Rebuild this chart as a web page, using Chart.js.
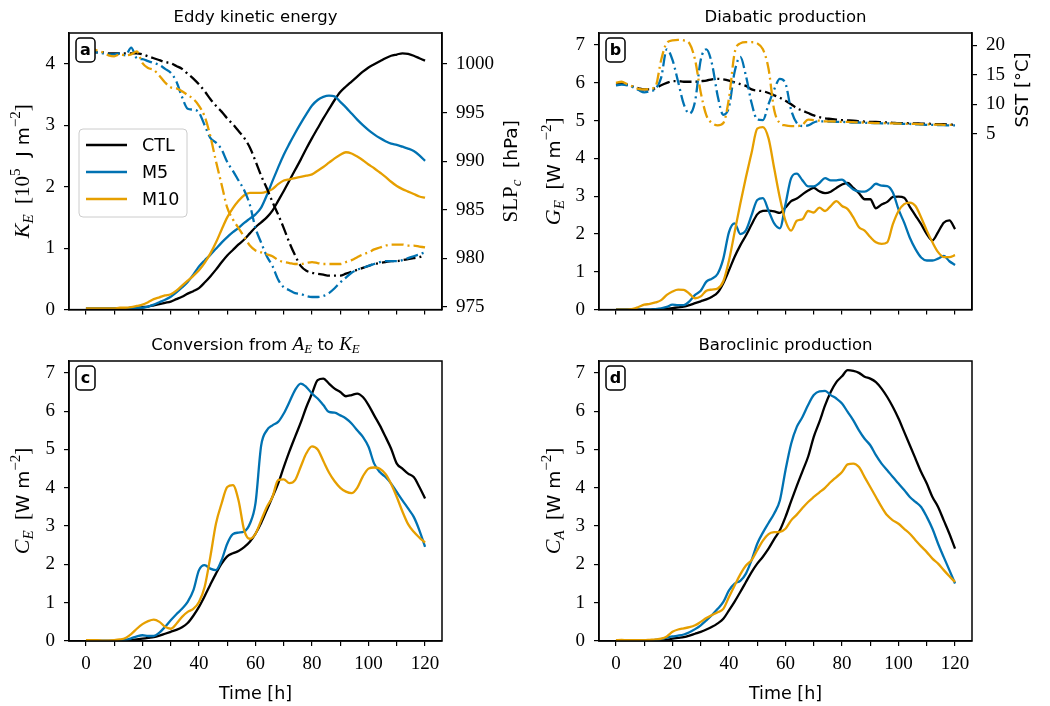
<!DOCTYPE html>
<html>
<head>
<meta charset="utf-8">
<script src="https://cdn.jsdelivr.net/npm/chart.js@4.4.1/dist/chart.umd.min.js"></script>
<style>
  body { margin: 0; background: #fff; width: 1050px; height: 706px; position: relative; overflow: hidden; }
  canvas { position: absolute; }
</style>
</head>
<body>
<canvas id="pa" width="525" height="330" style="left:0;top:0"></canvas>
<canvas id="pb" width="525" height="330" style="left:525px;top:0"></canvas>
<canvas id="pc" width="525" height="376" style="left:0;top:330px"></canvas>
<canvas id="pd" width="525" height="376" style="left:525px;top:330px"></canvas>
<script>
// time axis [h]
const hours = [0,2,4,6,8,10,12,14,16,18, 20,22,24,26,28,30,32,34,36,38,
  40,42,44,46,48,50,52,54,56,58, 60,62,64,66,68,70,72,74,76,78,
  80,82,84,86,88,90,92,94,96,98, 100,102,104,106,108,110,112,114,116,118, 120];
const runs = ["CTL", "M5", "M10"];

// (a) eddy kinetic energy [1e5 J m-2]
const keCTL = [0.02,0.02,0.02,0.02,0.02,0.02,0.02,0.02,0.03,0.03,
  0.04,0.05,0.07,0.09,0.11,0.13,0.17,0.21,0.26,0.30,
  0.35,0.44,0.54,0.65,0.77,0.88,0.97,1.06,1.14,1.24,
  1.34,1.42,1.50,1.61,1.77,1.93,2.10,2.27,2.44,2.62,
  2.79,2.95,3.11,3.26,3.41,3.54,3.63,3.71,3.79,3.87,
  3.94,3.99,4.04,4.09,4.13,4.15,4.17,4.16,4.13,4.09, 4.05];
const keM5 = [0.02,0.02,0.02,0.02,0.02,0.02,0.02,0.02,0.02,0.03,
  0.03,0.05,0.08,0.12,0.16,0.21,0.28,0.36,0.45,0.57,
  0.70,0.80,0.89,0.99,1.09,1.18,1.26,1.33,1.41,1.48,
  1.55,1.66,1.86,2.09,2.31,2.52,2.70,2.87,3.03,3.18,
  3.32,3.41,3.46,3.48,3.47,3.38,3.29,3.19,3.09,3.00,
  2.92,2.85,2.79,2.74,2.70,2.68,2.65,2.62,2.58,2.51, 2.42];
const keM10 = [0.02,0.02,0.02,0.02,0.02,0.02,0.03,0.03,0.04,0.06,
  0.08,0.12,0.17,0.20,0.23,0.25,0.31,0.39,0.47,0.55,
  0.64,0.76,0.91,1.09,1.30,1.50,1.65,1.77,1.86,1.90,
  1.90,1.90,1.92,1.96,2.04,2.10,2.12,2.14,2.16,2.18,
  2.20,2.26,2.32,2.39,2.46,2.52,2.56,2.54,2.49,2.43,
  2.36,2.30,2.23,2.16,2.08,2.01,1.96,1.92,1.88,1.84, 1.82];
// (a) central sea level pressure [hPa]
const slpCTL = [1001.3,1001.3,1001.2,1001.2,1001.1,1001.1,1001.1,1001.1,1001.1,1001.1,
  1001.0,1000.8,1000.6,1000.4,1000.2,1000.1,999.8,999.5,999.0,998.5,
  997.9,997.2,996.4,995.7,995.1,994.4,993.8,993.1,992.4,991.4,
  990.0,988.5,987.2,985.8,984.5,983.1,981.6,980.3,979.2,978.7,
  978.5,978.4,978.3,978.2,978.2,978.2,978.4,978.6,978.8,979.0,
  979.2,979.4,979.5,979.6,979.7,979.7,979.8,979.9,980.0,980.1, 980.3];
const slpM5 = [1001.3,1001.3,1001.2,1001.1,1001.0,1001.0,1001.1,1000.9,1001.7,1000.6,
  1000.5,1000.3,1000.1,999.9,999.5,999.1,998.2,996.6,995.4,995.3,
  995.0,993.7,992.4,991.9,991.2,989.9,989.0,988.0,987.0,985.5,
  983.1,981.6,980.2,979.2,977.8,977.0,976.7,976.4,976.3,976.1,
  976.0,976.0,976.1,976.4,976.9,977.5,978.0,978.5,978.8,979.0,
  979.2,979.4,979.6,979.7,979.7,979.7,979.8,980.0,980.2,980.4, 980.6];
const slpM10 = [1001.5,1001.6,1001.4,1001.2,1000.9,1000.8,1001.0,1000.9,1001.0,1001.3,
  1000.1,999.6,999.4,998.8,998.1,997.6,997.5,997.2,996.8,996.4,
  995.7,994.6,992.6,990.0,987.6,985.2,984.0,983.1,982.2,981.3,
  980.8,980.6,980.4,980.2,979.8,979.6,979.5,979.4,979.4,979.5,
  979.6,979.5,979.4,979.4,979.4,979.4,979.6,979.8,980.1,980.4,
  980.6,980.9,981.1,981.3,981.4,981.4,981.4,981.3,981.3,981.2, 981.1];

// (b) diabatic production [W m-2]
const geCTL = [0,0,0,0,0,0,0,0.01,0.01,0.02,
  0.04,0.06,0.08,0.12,0.17,0.22,0.27,0.34,0.45,0.70,
  1.04,1.40,1.70,1.96,2.25,2.52,2.61,2.62,2.60,2.56,
  2.70,2.87,2.94,3.05,3.15,3.22,3.13,3.08,3.12,3.22,
  3.31,3.35,3.22,3.08,2.92,2.92,2.68,2.78,2.85,2.98,
  2.99,2.96,2.72,2.49,2.26,2.00,1.83,2.05,2.30,2.36, 2.13];
const geM5 = [0,0,0,0,0,0,0,0.01,0.03,0.07,
  0.13,0.12,0.12,0.22,0.39,0.50,0.74,0.82,0.95,1.35,
  2.05,2.28,2.00,2.10,2.50,2.90,2.95,2.62,2.28,2.15,
  2.79,3.48,3.60,3.42,3.26,3.26,3.35,3.48,3.42,3.42,
  3.44,3.31,3.18,3.13,3.12,3.20,3.33,3.28,3.27,3.10,
  2.65,2.30,1.90,1.60,1.38,1.30,1.30,1.35,1.42,1.28, 1.18];
const geM10 = [0,0,0,0.02,0.07,0.13,0.15,0.19,0.25,0.39,
  0.48,0.53,0.52,0.42,0.30,0.35,0.50,0.53,0.56,0.75,
  1.30,2.05,2.80,3.50,4.15,4.79,4.83,4.53,3.74,2.96,
  2.35,2.09,2.35,2.39,2.61,2.57,2.70,2.61,2.74,2.87,
  2.74,2.66,2.44,2.18,2.09,1.92,1.78,1.74,1.78,2.26,
  2.61,2.79,2.83,2.74,2.44,2.09,1.78,1.52,1.39,1.39, 1.44];
// (b) sea surface temperature under the cyclone [degC]
const sstCTL = [13.5,13.5,13.3,13.0,12.7,12.5,12.5,12.7,13.2,13.6,
  13.9,13.9,13.8,13.8,13.8,13.9,14.0,14.2,14.3,14.2,
  14.0,13.7,13.4,13.1,12.5,12.3,12.2,11.9,11.5,11.1,
  10.6,10.0,9.3,8.9,8.5,8.1,7.8,7.6,7.5,7.4,
  7.3,7.25,7.2,7.1,7.05,7.0,7.0,6.95,6.9,6.85,
  6.8,6.8,6.75,6.75,6.7,6.7,6.65,6.6,6.6,6.55, 6.5];
const sstM5 = [13.2,13.3,13.2,12.9,12.4,12.0,12.2,12.6,14.5,19.3,
  17.5,13.8,10.0,8.4,10.5,17.5,19.3,16.8,11.4,8.2,
  9.5,15.5,18.0,14.8,10.2,7.4,7.3,10.0,12.5,14.3,
  13.5,9.0,6.8,6.3,6.4,6.9,7.1,7.1,7.05,7.0,
  7.0,6.95,6.9,6.9,6.85,6.8,6.8,6.75,6.75,6.7,
  6.7,6.65,6.65,6.6,6.55,6.5,6.5,6.45,6.45,6.4, 6.4];
const sstM10 = [13.6,13.8,13.4,13.0,12.6,12.5,12.6,13.0,17.5,20.4,
  20.8,20.9,20.8,20.3,17.5,12.0,8.1,6.8,6.4,6.8,
  11.0,18.7,20.3,20.5,20.5,20.3,19.3,16.0,9.0,6.8,
  6.4,6.3,6.3,6.5,7.4,7.3,7.2,7.1,7.1,7.05,
  7.0,7.0,6.95,6.9,6.9,6.85,6.8,6.8,6.75,6.75,
  6.7,6.7,6.65,6.65,6.6,6.6,6.55,6.55,6.5,6.5, 6.5];

// (c) conversion from A_E to K_E [W m-2]
const ceCTL = [0,0,0,0,0,0,0,0.01,0.02,0.04,
  0.06,0.08,0.10,0.14,0.19,0.24,0.29,0.36,0.47,0.66,
  0.89,1.17,1.47,1.76,2.02,2.21,2.29,2.35,2.45,2.59,
  2.80,3.08,3.42,3.76,4.11,4.54,4.95,5.33,5.70,6.11,
  6.46,6.81,6.85,6.72,6.59,6.50,6.39,6.42,6.46,6.37,
  6.16,5.89,5.63,5.33,5.02,4.63,4.50,4.37,4.28,4.02, 3.72];
const ceM5 = [0,0,0,0,0,0,0.01,0.03,0.07,0.12,
  0.15,0.13,0.13,0.22,0.37,0.54,0.70,0.84,1.02,1.32,
  1.85,1.98,1.89,1.85,2.11,2.54,2.79,2.83,2.86,3.06,
  3.60,5.10,5.50,5.63,5.72,5.94,6.24,6.55,6.72,6.63,
  6.46,6.33,6.16,5.98,5.96,5.89,5.81,5.68,5.50,5.33,
  5.07,4.63,4.41,4.28,4.11,3.89,3.67,3.46,3.24,2.89, 2.46];
const ceM10 = [0.02,0.02,0.02,0.01,0.01,0.02,0.04,0.08,0.18,0.32,
  0.44,0.52,0.56,0.50,0.37,0.32,0.45,0.63,0.76,0.84,
  1.02,1.41,2.19,3.06,3.59,4.02,4.07,3.67,2.89,2.67,
  2.80,3.15,3.50,3.76,4.20,4.22,4.12,4.20,4.55,4.90,
  5.08,5.00,4.70,4.40,4.17,4.00,3.90,3.86,4.00,4.30,
  4.50,4.53,4.50,4.36,4.10,3.76,3.38,3.05,2.85,2.70, 2.57];

// (d) baroclinic production [W m-2]
const caCTL = [0,0,0,0,0,0,0,0,0.01,0.03,
  0.06,0.08,0.10,0.14,0.19,0.24,0.30,0.37,0.46,0.58,
  0.80,1.03,1.28,1.54,1.80,2.02,2.20,2.41,2.66,2.89,
  3.24,3.65,4.05,4.43,4.81,5.33,5.72,6.15,6.50,6.76,
  6.91,7.07,7.05,7.00,6.90,6.85,6.76,6.59,6.37,6.11,
  5.81,5.46,5.11,4.76,4.41,4.11,3.76,3.50,3.15,2.80, 2.41];
const caM5 = [0.01,0.01,0.01,0.01,0.01,0.01,0.02,0.03,0.05,0.09,
  0.12,0.14,0.17,0.23,0.31,0.41,0.54,0.68,0.84,1.02,
  1.32,1.50,1.57,1.76,2.11,2.54,2.83,3.08,3.33,3.67,
  4.46,5.15,5.59,5.85,6.16,6.42,6.52,6.53,6.42,6.33,
  6.20,5.98,5.76,5.50,5.28,5.11,4.85,4.63,4.46,4.28,
  4.11,3.94,3.76,3.63,3.50,3.24,2.93,2.54,2.19,1.85, 1.50];
const caM10 = [0.02,0.03,0.02,0.02,0.02,0.02,0.03,0.04,0.06,0.12,
  0.24,0.30,0.33,0.36,0.41,0.50,0.60,0.68,0.75,0.84,
  1.15,1.45,1.74,1.97,2.11,2.37,2.62,2.79,2.84,2.85,
  2.93,3.15,3.30,3.47,3.63,3.76,3.88,4.00,4.15,4.28,
  4.41,4.61,4.63,4.54,4.28,4.02,3.76,3.50,3.28,3.15,
  3.06,2.93,2.80,2.63,2.47,2.32,2.15,2.02,1.85,1.69, 1.54];

const xTicks = [0, 20, 40, 60, 80, 100, 120];
const sstTicks = [5, 10, 15, 20];

const colors = ["#000000", "#0072B2", "#E69F00"];
const SERIF = '"Liberation Serif", "DejaVu Serif", serif';
const SANS = '"DejaVu Sans", sans-serif';
const sr = s => s + "px " + SERIF;
const it = s => "italic " + s + "px " + SERIF;
const sn = s => s + "px " + SANS;

Chart.defaults.font.family = SERIF;
Chart.defaults.font.size = 19;
Chart.defaults.color = "#000";

// draw text made of several font pieces, centred on (x, y)
function rich(ctx, segs, x, y, rot) {
  ctx.save();
  ctx.translate(x, y);
  if (rot) ctx.rotate(rot);
  ctx.textAlign = "left";
  ctx.textBaseline = "alphabetic";
  ctx.fillStyle = "#000";
  let w = 0;
  segs.forEach(s => { ctx.font = s[1]; w += ctx.measureText(s[0]).width; });
  let cx = -w / 2;
  segs.forEach(s => {
    ctx.font = s[1];
    ctx.fillText(s[0], cx, 6 + (s[2] || 0));
    cx += ctx.measureText(s[0]).width;
  });
  ctx.restore();
}

function fluxLabel(sym, sub) {
  return [[sym, it(22)], [sub, it(15), 4], ["  [", sr(21)], ["W m", sn(18.5)], ["\u22122", sr(15), -9], ["]", sr(21)]];
}

function makeDeco(info) {
  return {
    id: "deco",
    afterDraw(chart) {
      const c = chart.ctx, a = chart.chartArea;
      const cx = (a.left + a.right) / 2, cy = (a.top + a.bottom) / 2;
      c.save();
      c.strokeStyle = "#000";
      c.lineWidth = 1.5;
      c.strokeRect(a.left, a.top, a.right - a.left, a.bottom - a.top);

      // panel letter
      c.fillStyle = "#fff";
      c.beginPath();
      c.roundRect(a.left + 7, a.top + 5, 19, 24, 4);
      c.fill();
      c.stroke();
      c.fillStyle = "#000";
      c.font = "bold 16px " + SANS;
      c.textAlign = "center";
      c.textBaseline = "middle";
      c.fillText(info.letter, a.left + 16.5, a.top + 17.5);

      rich(c, info.title, cx, info.titleY);
      rich(c, info.yLabel, info.yLabelX, cy, -Math.PI / 2);
      if (info.y2Label) rich(c, info.y2Label, a.right + info.y2dx, info.y2y || cy, -Math.PI / 2);
      if (info.xLabel) rich(c, info.xLabel, cx, a.bottom + 52);

      if (info.legend) {
        const bx = a.left + 10, by = a.top + 96;
        c.fillStyle = "rgba(255,255,255,0.85)";
        c.strokeStyle = "#cccccc";
        c.lineWidth = 1;
        c.beginPath();
        c.roundRect(bx, by, 108, 88, 4);
        c.fill();
        c.stroke();
        c.textAlign = "left";
        c.textBaseline = "middle";
        c.font = sn(17.5);
        for (let i = 0; i < 3; i++) {
          const ds = chart.data.datasets[i];
          const ly = by + 16 + i * 27;
          c.strokeStyle = ds.borderColor;
          c.lineWidth = 2.3;
          c.beginPath();
          c.moveTo(bx + 7, ly);
          c.lineTo(bx + 48, ly);
          c.stroke();
          c.fillStyle = "#000";
          c.fillText(ds.label, bx + 63, ly + 1);
        }
      }
      c.restore();
    }
  };
}

function line(label, vals, color, axis, dashed, order) {
  return {
    label: label,
    data: vals.map((v, i) => ({ x: hours[i], y: v })),
    borderColor: color,
    backgroundColor: color,
    borderWidth: 2.3,
    borderDash: dashed ? [12, 4, 2, 4] : [],
    pointRadius: 0,
    cubicInterpolationMode: "monotone",
    yAxisID: axis,
    order: order
  };
}

function xScale(showLabels, h) {
  return {
    type: "linear", min: -6, max: 126,
    ticks: {
      stepSize: 10, includeBounds: false, autoSkip: false, maxRotation: 0, padding: 7,
      callback: v => (showLabels && xTicks.includes(v)) ? String(v) : ""
    },
    grid: { drawOnChartArea: false, tickLength: 5, color: "#000", lineWidth: 1.2 },
    border: { color: "#000", width: 1.5 },
    afterFit: s => { s.height = h; }
  };
}

function yScale(pos, min, max, w, step) {
  return {
    type: "linear", position: pos, min: min, max: max,
    ticks: { stepSize: step, includeBounds: false, autoSkip: false, padding: 9, callback: v => String(v) },
    grid: { drawOnChartArea: false, tickLength: 5, color: "#000", lineWidth: 1.2 },
    border: { color: "#000", width: 1.5 },
    afterFit: s => { s.width = w; }
  };
}

function makeChart(id, datasets, scales, padding, info) {
  return new Chart(document.getElementById(id), {
    type: "line",
    data: { datasets: datasets },
    options: {
      responsive: false,
      animation: false,
      devicePixelRatio: 1,
      events: [],
      layout: { padding: padding },
      plugins: { legend: { display: false }, tooltip: { enabled: false } },
      scales: scales
    },
    plugins: [makeDeco(info)]
  });
}

// (a)
makeChart("pa", [
  line(runs[0], keCTL, colors[0], "y", false, 3),
  line(runs[1], keM5, colors[1], "y", false, 2),
  line(runs[2], keM10, colors[2], "y", false, 1),
  line(runs[0], slpCTL, colors[0], "y2", true, -1),
  line(runs[1], slpM5, colors[1], "y2", true, -2),
  line(runs[2], slpM10, colors[2], "y2", true, -3)
], {
  x: xScale(false, 17),
  y: yScale("left", 0, 4.5, 69, 1),
  y2: yScale("right", 974.7, 1003.2, 83, 5)
}, { top: 33, left: 0, right: 0, bottom: 0 }, {
  letter: "a",
  title: [["Eddy kinetic energy", sn(16.5)]], titleY: 16,
  yLabel: [["K", it(22)], ["E", it(15), 4], ["  [10", sr(21)], ["5", sr(15), -9], ["  J m", sn(18.5)], ["\u22122", sr(15), -9], ["]", sr(21)]],
  yLabelX: 23,
  y2Label: [["SLP", sr(21)], ["c", it(15), 4], ["  [hPa]", sn(18.5)]], y2dx: 69,
  legend: true
});

// (b)
const sstAxis = yScale("right", -24.8, 22.06, 78, 5);
sstAxis.afterBuildTicks = s => { s.ticks = sstTicks.map(v => ({ value: v })); };
makeChart("pb", [
  line(runs[0], geCTL, colors[0], "y", false, 3),
  line(runs[1], geM5, colors[1], "y", false, 2),
  line(runs[2], geM10, colors[2], "y", false, 1),
  line(runs[0], sstCTL, colors[0], "y2", true, -1),
  line(runs[1], sstM5, colors[1], "y2", true, -2),
  line(runs[2], sstM10, colors[2], "y2", true, -3)
], {
  x: xScale(false, 17),
  y: yScale("left", 0, 7.32, 74, 1),
  y2: sstAxis
}, { top: 33, left: 0, right: 0, bottom: 0 }, {
  letter: "b",
  title: [["Diabatic production", sn(16.5)]], titleY: 16,
  yLabel: fluxLabel("G", "E"), yLabelX: 29,
  y2Label: [["SST [\u00b0C]", sn(18)]], y2dx: 50, y2y: 90
});

// (c)
makeChart("pc", [
  line(runs[0], ceCTL, colors[0], "y", false, 3),
  line(runs[1], ceM5, colors[1], "y", false, 2),
  line(runs[2], ceM10, colors[2], "y", false, 1)
], {
  x: xScale(true, 65),
  y: yScale("left", 0, 7.31, 69, 1)
}, { top: 31, left: 0, right: 83, bottom: 0 }, {
  letter: "c",
  title: [["Conversion from ", sn(16.5)], ["A", it(19)], ["E", it(13), 3], [" to ", sn(16.5)], ["K", it(19)], ["E", it(13), 3]],
  titleY: 14,
  yLabel: fluxLabel("C", "E"), yLabelX: 23,
  xLabel: [["Time [h]", sn(17.5)]]
});

// (d)
makeChart("pd", [
  line(runs[0], caCTL, colors[0], "y", false, 3),
  line(runs[1], caM5, colors[1], "y", false, 2),
  line(runs[2], caM10, colors[2], "y", false, 1)
], {
  x: xScale(true, 65),
  y: yScale("left", 0, 7.31, 74, 1)
}, { top: 31, left: 0, right: 78, bottom: 0 }, {
  letter: "d",
  title: [["Baroclinic production", sn(16.5)]], titleY: 14,
  yLabel: fluxLabel("C", "A"), yLabelX: 29,
  xLabel: [["Time [h]", sn(17.5)]]
});
</script>
</body>
</html>
